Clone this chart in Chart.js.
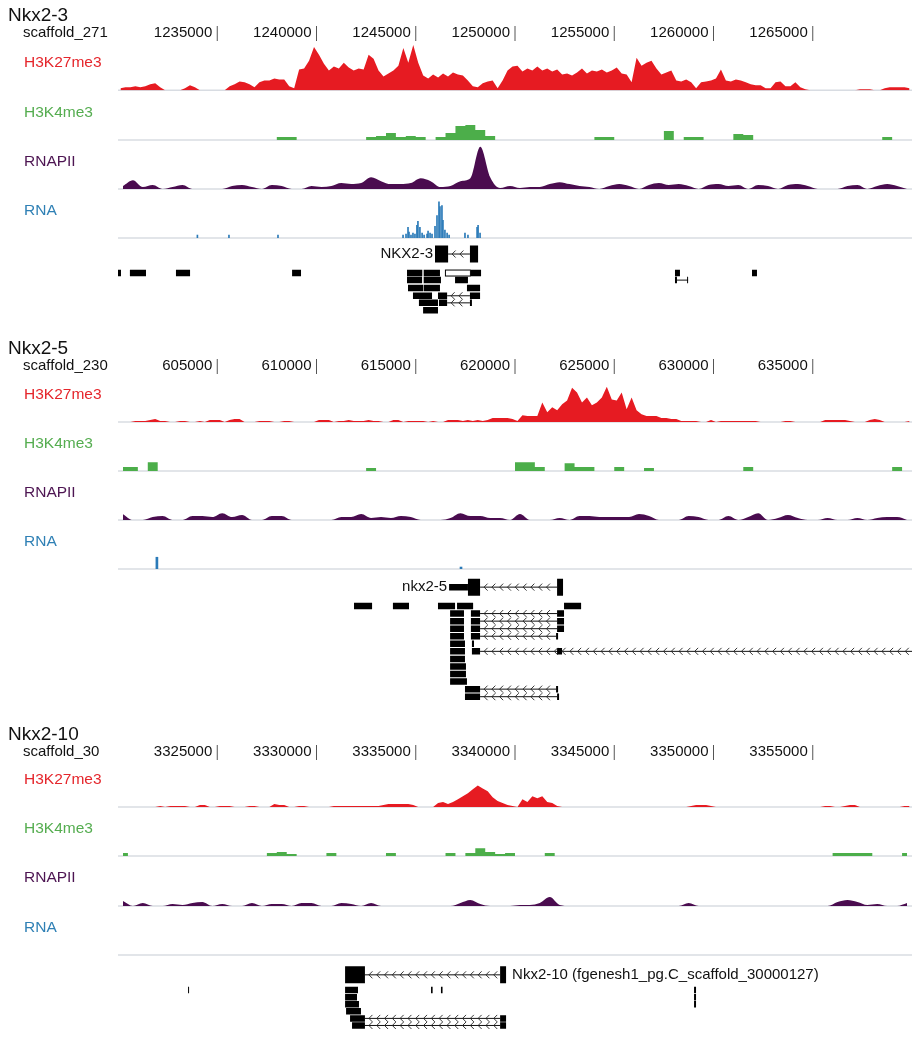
<!DOCTYPE html>
<html>
<head>
<meta charset="utf-8">
<script src="https://cdn.jsdelivr.net/npm/chart.js@4.4.1/dist/chart.umd.min.js"></script>
<style>
body{margin:0;background:#fff;width:921px;height:1050px;position:relative;overflow:hidden}
canvas{position:absolute;left:0}
</style>
</head>
<body>
<canvas id="p1" width="921" height="325" style="top:0px"></canvas>
<canvas id="p2" width="921" height="380" style="top:330px"></canvas>
<canvas id="p3" width="921" height="335" style="top:715px"></canvas>
<script>
const BIN = 500;      // bp per bin for H3K4me3 / RNAPII (80 bins per 40 kb)
const K27_BIN = 250;  // bp per bin for H3K27me3 (160 bins per 40 kb)
const trackIds = ['k27', 'k4', 'pol', 'rna'];
const trackNames = ['H3K27me3', 'H3K4me3', 'RNAPII', 'RNA'];
const fillColors = ['#e61b22', '#4cae4a', '#4a0c4f', '#2a7ab8'];
const labelColors = ['#e5262c', '#55ad50', '#4d1552', '#2f80b5'];

// ---- Nkx2-3 / scaffold_271
const p1Start = 1230000;
const p1Ticks = [1235000, 1240000, 1245000, 1250000, 1255000, 1260000, 1265000];
const p1K27 = [4,6,6,8,6,8,12,14,6, 0,0,0,0, 4,10,6, 0,0,0,0,0,0, 8,12,18,16,12,6,
  16,20,20,24,22,22,8,4,
  42,44,60,88,72,54,40,48,44,56,46,40,44,42,72,64,40,28,34,40,50,86,56,92,56,30,24,32,26,34,28,36,32,
  30,20,8,6,14,18,20,4,20,40, 48,50,38,44,40,48,40,44,38,42, 32,34,30,36,44,34,40,38,42,36,
  40,46,34,32,16,66,50,56,60,44, 32,36,40,20,18,22,16,4,16,18, 20,24,42,20,18,22,20,16,12,10,
  10,4,4,16,18,8,8,16,6,2, 0,0,0,0,0,0,0,0,0,0, 2,2,2,0,0,4,6,6,6,6, 4];
const p1K4 = [0,0,0,0,0,0,0,0,0,0, 0,0,0,0,0,0,6,6,0,0, 0,0,0,0,0,6,8,14,6,8,
  6,0,6,14,28,30,20,8,0,0, 0,0,0,0,0,0,0,0,6,6, 0,0,0,0,0,18,0,6,6,0,
  0,0,12,10,0,0,0,0,0,0, 0,0,0,0,0,0,0,6,0,0];
const p1Pol = [6,18,4,8,0,4,8,0,0,0, 0,6,8,4,0,8,6,0,0,6, 4,6,12,10,12,24,16,10,10,12,
  22,16,4,6,16,22,86,24,2,6, 2,4,4,10,14,10,6,4,0,6, 10,6,0,8,12,8,10,6,0,8,
  10,6,8,0,8,6,0,8,10,6, 0,0,0,6,8,0,6,10,6,0];
const p1RnaPos = [1234000,1235590,1238060,1244360,1244510,1244610,1244660,1244760,1244860,1244960,1245060,
  1245110,1245210,1245320,1245420,1245570,1245620,1245720,1245820,1245970,1246070,1246170,1246220,
  1246320,1246370,1246470,1246580,1246680,1247480,1247630,1248090,1248140,1248240];
const p1RnaVal = [6,6,6,6,8,22,12,6,10,8,26,34,22,10,6,8,14,10,8,24,46,74,64,66,36,16,10,6,10,6,22,26,10];
const p1LaneY = [2.15, 4.7, 5.65, 6.7, 7.75, 8.7, 9.7];
const p1Thick = [[1245970,1246630,0],[1247730,1248140,0]];
const p1Exons = [
  [1230000,1230150,1],[1230600,1231410,1],[1232920,1233630,1],[1238770,1239220,1],[1244560,1245330,1],
  [1245400,1246220,1],[1247780,1248290,1],[1258060,1258310,1],[1261940,1262190,1],
  [1244560,1245320,2],[1245400,1246270,2],[1246980,1247630,2],[1258060,1258160,2],[1258670,1258720,2],
  [1244610,1245370,3],[1245400,1246220,3],[1247580,1248240,3],
  [1244860,1245820,4],[1246120,1246580,4],[1247730,1248240,4],
  [1245160,1246120,5],[1246170,1246580,5],[1247730,1247830,5],
  [1245370,1246120,6]];
const p1Open = [[1246470,1247780,1]];
const p1Introns = [[1246630,1247730,0],[1246580,1247730,4],[1246580,1247730,5],[1258160,1258720,2]];

// ---- Nkx2-5 / scaffold_230
const p2Start = 600000;
const p2Ticks = [605000, 610000, 615000, 620000, 625000, 630000, 635000];
const p2K27 = [0,0,0,2,2,2,4,6,2,2, 0,0,2,2,0,0,2,0,4,4, 4,0,4,6,6,0,0,0,2,2,
  2,0,0,2,2,0,0,0,0,0, 4,4,4,0,2,2,4,2,2,2, 4,2,2,0,0,4,4,0,2,2,
  2,2,0,2,0,0,4,4,4,2, 4,2,4,2,4,8,8,8,8,6, 2,14,12,12,12,40,20,30,24,36,
  44,70,60,40,50,34,40,50,72,46, 44,60,26,50,24,16,12,12,12,8, 8,6,6,2,2,2,2,0,0,4,
  0,2,2,2,2,2,2,2,2,0, 0,0,0,0,2,2,0,0,0,0, 0,0,4,4,4,4,4,2,0,0, 0,4,6,4,0,0,0,0,0,2];
const p2K4 = [8,8,0,18,0,0,0,0,0,0, 0,0,0,0,0,0,0,0,0,0, 0,0,0,0,0,6,0,0,0,0,
  0,0,0,0,0,0,0,0,0,0, 18,18,8,0,0,16,8,8,0,0, 8,0,0,6,0,0,0,0,0,0,
  0,0,0,8,0,0,0,0,0,0, 0,0,0,0,0,0,0,0,8,0];
const p2Pol = [12,0,0,6,8,0,0,8,8,6, 14,6,10,0,0,8,8,0,0,0, 0,0,6,6,12,4,6,4,8,6,
  0,0,0,4,14,8,8,4,4,0, 12,0,0,0,4,0,8,8,6,6, 6,6,12,8,0,0,0,8,6,0,
  0,8,0,6,14,0,4,10,4,0, 0,4,0,0,4,0,4,6,6,0];
const p2RnaPos = [601960, 617280];
const p2RnaVal = [24, 4];
const p2LaneY = [2.4, 4.9, 5.9, 6.9, 7.9, 8.9, 9.9, 10.9, 11.9, 12.9, 13.9, 14.9, 15.9, 16.9];
const p2Thick = [[617630,618240,0],[622120,622420,0]];
const p2Exons = [
  [616680,617630,0],
  [611890,612800,1],[613850,614660,1],[616120,616980,1],[617080,617890,1],[622470,623330,1],
  [616730,617430,2],[617780,618240,2],[622120,622470,2],
  [616730,617430,3],[617780,618240,3],[622120,622470,3],
  [616730,617430,4],[617780,618240,4],[622120,622470,4],
  [616730,617430,5],[617780,618240,5],[622070,622170,5],
  [616730,617480,6],[617830,617935,6],
  [616730,617480,7],[617830,618240,7],[622120,622370,7],
  [616730,617480,8],[616730,617530,9],[616730,617530,10],[616730,617580,11],
  [617480,618240,12],[622070,622170,12],
  [617480,618240,13],[622120,622220,13]];
const p2Open = [];
const p2Introns = [[618240,622120,0],[618240,622120,2],[618240,622120,3],[618240,622120,4],
  [618240,622070,5],[618240,640000,7],[618240,622070,12],[618240,622120,13]];

// ---- Nkx2-10 / scaffold_30
const p3Start = 3320000;
const p3Ticks = [3325000, 3330000, 3335000, 3340000, 3345000, 3350000, 3355000];
const p3K27 = [0,0,0,0,0,0,0,0,2,0, 2,2,2,2,0,0,4,4,0,0, 2,2,2,0,0,0,2,2,0,0,
  0,6,4,4,0,0,2,2,0,0, 0,0,0,2,2,2,2,2,2,2, 2,2,2,4,6,6,6,6,6,4,
  0,0,0,0,8,10,6,10,16,22, 28,36,44,38,32,20,12,8,4,2, 0,16,10,22,18,22,10,8,2,0,
  0,0,0,0,0,0,0,0,0,0, 0,0,0,0,0,0,0,0,0,0, 0,0,0,0,0,2,4,4,4,2,
  0,0,0,0,0,0,0,0,0,0, 0,0,0,0,0,0,0,0,0,0, 0,0,2,2,0,0,2,4,4,0, 0,0,0,0,0,0,0,0,2,2];
const p3K4 = [6,0,0,0,0,0,0,0,0,0, 0,0,0,0,0,6,8,4,0,0, 0,6,0,0,0,0,0,6,0,0,
  0,0,0,6,0,6,16,8,4,6, 0,0,0,6,0,0,0,0,0,0, 0,0,0,0,0,0,0,0,0,0,
  0,0,0,0,0,0,0,0,0,0, 0,0,6,6,6,6,0,0,0,6];
const p3Pol = [10,0,6,0,0,4,2,6,8,0, 4,0,0,6,0,4,4,0,6,6, 0,0,6,4,0,6,0,0,0,0,
  0,0,0,0,6,12,4,0,0,0, 2,2,6,18,2,0,0,0,0,0, 0,0,0,0,0,0,0,6,0,0,
  0,0,0,0,0,0,0,0,0,0, 0,0,8,12,8,2,4,0,0,6];
const p3RnaPos = [];
const p3RnaVal = [];
const p3LaneY = [2.8, 4.95, 5.95, 6.95, 7.95, 8.95, 9.95];
const p3Thick = [[3331440,3332440,0],[3339250,3339550,0]];
const p3Exons = [
  [3331440,3332090,1],[3323530,3323580,1],[3335770,3335850,1],[3336270,3336350,1],[3349020,3349120,1],
  [3331440,3332040,2],[3349020,3349120,2],
  [3331440,3332140,3],[3349020,3349120,3],
  [3331490,3332240,4],
  [3331690,3332440,5],[3339250,3339550,5],
  [3331790,3332440,6],[3339250,3339550,6]];
const p3Open = [];
const p3Introns = [[3332440,3339250,0],[3332440,3339250,5],[3332440,3339250,6]];

const FONT = '"Liberation Sans", Arial, sans-serif';

function decor(cfg) {
  return {
    id: 'decor',
    beforeDatasetsDraw(chart) {
      const {ctx, chartArea: a, scales: s} = chart;
      ctx.save();
      ctx.strokeStyle = '#d8dce2';
      ctx.lineWidth = 1.5;
      trackIds.forEach(id => {
        const y = s[id].getPixelForValue(0);
        ctx.beginPath(); ctx.moveTo(a.left, y); ctx.lineTo(a.right, y); ctx.stroke();
      });
      ctx.restore();
    },
    afterDatasetsDraw(chart) {
      const {ctx, scales: s} = chart;
      const x = s.x, g = s.genes;
      ctx.save();
      // strand chevrons on introns
      ctx.strokeStyle = '#222';
      ctx.lineWidth = 0.9;
      cfg.introns.forEach(([b0, b1, l]) => {
        const x1 = x.getPixelForValue(b0), x2 = x.getPixelForValue(b1), y = g.getPixelForValue(cfg.laneY[l]);
        if (x2 - x1 < 15) return;
        ctx.beginPath();
        for (let cx = x1 + 4; cx < x2 - 5; cx += 7.8) {
          ctx.moveTo(cx + 3.5, y - 3.5); ctx.lineTo(cx, y); ctx.lineTo(cx + 3.5, y + 3.5);
        }
        ctx.stroke();
      });
      // header
      ctx.textBaseline = 'middle';
      ctx.fillStyle = '#111';
      ctx.textAlign = 'left';
      ctx.font = '19px ' + FONT;
      ctx.fillText(cfg.title, 8, cfg.titleY);
      ctx.font = '15px ' + FONT;
      ctx.fillText(cfg.scaffold, 23, cfg.tickY);
      ctx.textAlign = 'right';
      ctx.strokeStyle = '#555';
      ctx.lineWidth = 1;
      cfg.ticks.forEach(t => {
        const px = x.getPixelForValue(t);
        ctx.fillText(String(t), px - 5, cfg.tickY);
        ctx.beginPath(); ctx.moveTo(px, cfg.tickY - 7); ctx.lineTo(px, cfg.tickY + 8); ctx.stroke();
      });
      // track labels
      ctx.textAlign = 'left';
      ctx.font = '15.5px ' + FONT;
      trackIds.forEach((id, i) => {
        ctx.fillStyle = labelColors[i];
        ctx.fillText(trackNames[i], 24, s[id].top + 22);
      });
      // gene name
      ctx.fillStyle = '#111';
      ctx.font = '15px ' + FONT;
      const gy = g.getPixelForValue(cfg.laneY[0]);
      if (cfg.nameSide === 'left') {
        ctx.textAlign = 'right';
        ctx.fillText(cfg.geneName, x.getPixelForValue(cfg.nameAt) - 2, gy);
      } else {
        ctx.textAlign = 'left';
        ctx.fillText(cfg.geneName, x.getPixelForValue(cfg.nameAt) + 6, gy);
      }
      ctx.restore();
    }
  };
}

function segments(list, laneY) {
  const pts = [];
  list.forEach(([a, b, l]) => { pts.push({x: a, y: laneY[l]}, {x: b, y: laneY[l]}, {x: b, y: null}); });
  return pts;
}

function makePanel(id, cfg) {
  const bins = (vals, size) => vals.map((v, i) => ({x: cfg.start + i * size + size / 2, y: v}));
  const area = (vals, size, axis, color, extra) => Object.assign({
    type: 'line', data: bins(vals, size), yAxisID: axis, backgroundColor: color, borderColor: color,
    borderWidth: 0, fill: 'origin', pointRadius: 0, tension: 0, order: 10
  }, extra || {});
  const geneLine = (list, width, color, order) => ({
    type: 'line', data: segments(list, cfg.laneY), yAxisID: 'genes', borderColor: color,
    borderWidth: width, borderCapStyle: 'butt', pointRadius: 0, fill: false, spanGaps: false, order: order
  });
  const openInner = cfg.open.map(([a, b, l]) => [a + 50, b - 50, l]);
  const w = cfg.weights;
  const yAxis = (weight, sw, max, extra) => Object.assign({
    type: 'linear', position: 'left', stack: 'tracks', stackWeight: sw, weight: weight,
    min: 0, max: max, display: false
  }, extra || {});
  new Chart(document.getElementById(id), {
    type: 'line',
    data: {
      datasets: [
        area(cfg.k27, K27_BIN, 'k27', fillColors[0]),
        area(cfg.k4, BIN, 'k4', fillColors[1], {stepped: 'middle'}),
        area(cfg.pol, BIN, 'pol', fillColors[2], {cubicInterpolationMode: 'monotone'}),
        {type: 'bar', data: cfg.rnaPos.map((p, i) => ({x: p, y: cfg.rnaVal[i]})), yAxisID: 'rna',
          backgroundColor: fillColors[3], grouped: false, maxBarThickness: 2,
          barPercentage: 1, categoryPercentage: 1, order: 10},
        geneLine(cfg.introns, 1, '#111', 5),
        geneLine(cfg.exons, 6.5, '#000', 4),
        geneLine(cfg.open, 7, '#000', 3),
        geneLine(openInner, 5, '#fff', 2),
        geneLine(cfg.thick, 17, '#000', 1)
      ]
    },
    options: {
      responsive: false,
      animation: false,
      events: [],
      layout: {padding: {left: 118, right: 9, top: cfg.padTop, bottom: cfg.padBottom}},
      plugins: {legend: {display: false}, tooltip: {enabled: false}},
      scales: {
        x: {type: 'linear', min: cfg.start, max: cfg.start + 40000, offset: false, display: false},
        k27: yAxis(5, w[0], 100),
        k4: yAxis(4, w[1], 100),
        pol: yAxis(3, w[2], 100),
        rna: yAxis(2, w[3], 100),
        genes: yAxis(1, w[4], cfg.laneMax, {reverse: true})
      }
    },
    plugins: [decor(cfg)]
  });
}

makePanel('p1', {
  title: 'Nkx2-3', scaffold: 'scaffold_271', start: p1Start, ticks: p1Ticks,
  k27: p1K27, k4: p1K4, pol: p1Pol, rnaPos: p1RnaPos, rnaVal: p1RnaVal,
  laneY: p1LaneY, laneMax: 11, thick: p1Thick, exons: p1Exons, open: p1Open, introns: p1Introns,
  geneName: 'NKX2-3', nameSide: 'left', nameAt: 1245970,
  padTop: 41, padBottom: 5, weights: [49.25, 49.75, 49, 49, 82], titleY: 16, tickY: 33
});
makePanel('p2', {
  title: 'Nkx2-5', scaffold: 'scaffold_230', start: p2Start, ticks: p2Ticks,
  k27: p2K27, k4: p2K4, pol: p2Pol, rnaPos: p2RnaPos, rnaVal: p2RnaVal,
  laneY: p2LaneY, laneMax: 18, thick: p2Thick, exons: p2Exons, open: p2Open, introns: p2Introns,
  geneName: 'nkx2-5', nameSide: 'left', nameAt: 616680,
  padTop: 43, padBottom: 5, weights: [49, 49, 49, 49, 136], titleY: 19, tickY: 36
});
makePanel('p3', {
  title: 'Nkx2-10', scaffold: 'scaffold_30', start: p3Start, ticks: p3Ticks,
  k27: p3K27, k4: p3K4, pol: p3Pol, rnaPos: p3RnaPos, rnaVal: p3RnaVal,
  laneY: p3LaneY, laneMax: 12, thick: p3Thick, exons: p3Exons, open: p3Open, introns: p3Introns,
  geneName: 'Nkx2-10 (fgenesh1_pg.C_scaffold_30000127)', nameSide: 'right', nameAt: 3339550,
  padTop: 43, padBottom: 10, weights: [49, 49, 50, 49, 85], titleY: 20, tickY: 37
});
</script>
</body>
</html>
